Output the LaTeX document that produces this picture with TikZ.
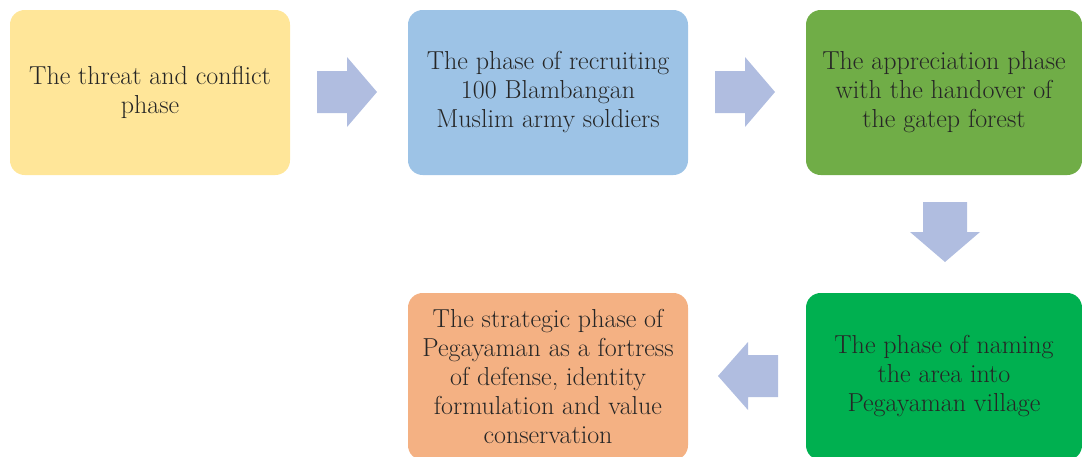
\documentclass[tikz,border=0pt]{standalone}
\definecolor{phaseYellow}{RGB}{255,230,153}
\definecolor{phaseBlue}{RGB}{157,195,230}
\definecolor{phaseGreen}{RGB}{112,173,71}
\definecolor{phaseDeepGreen}{RGB}{0,176,80}
\definecolor{phaseOrange}{RGB}{244,177,131}
\definecolor{arrowBlue}{RGB}{176,189,224}
\definecolor{phaseText}{RGB}{38,38,38}
\tikzset{
  phasebox/.style={rounded corners=11pt, minimum width=210pt, minimum height=123.75pt,
    inner sep=0pt, align=center, text=phaseText, font=\fontsize{19.5}{21.75}\selectfont},
  blockarrow/.style={fill=arrowBlue, draw=none}
}
\begin{document}
\begin{tikzpicture}[x=0.75pt,y=0.75pt,yscale=-1,xscale=1]
                \useasboundingbox (0,0) rectangle (1082,457);
                \clip (0,0) rectangle (1082,457);

                %Shape: Rounded Rectangle [id:threat]
                \node [phasebox, fill=phaseYellow] (threat) at (150,92.5) {The threat and conflict\\phase};
                %Shape: Rounded Rectangle [id:recruit]
                \node [phasebox, fill=phaseBlue] (recruit) at (548,92.5) {The phase of recruiting\\100 Blambangan\\Muslim army soldiers};
                %Shape: Rounded Rectangle [id:appreciation]
                \node [phasebox, fill=phaseGreen, minimum width=207pt] (appreciation) at (944,92.5) {The appreciation phase\\with the handover of\\the gatep forest};
                %Shape: Rounded Rectangle [id:naming]
                \node [phasebox, fill=phaseDeepGreen, minimum width=207pt, minimum height=125.25pt] (naming) at (944,376.5) {The phase of naming\\the area into\\Pegayaman village};
                %Shape: Rounded Rectangle [id:strategic]
                \node [phasebox, fill=phaseOrange, minimum height=125.25pt] (strategic) at (548,376.5) {The strategic phase of\\Pegayaman as a fortress\\of defense, identity\\formulation and value\\conservation};

                %Shape: Right Arrow [id:arrowOne]
                \fill [blockarrow] (317,71) -- (347,71) -- (347,57) -- (377,92) -- (347,127) -- (347,113) -- (317,113) -- cycle ;
                %Shape: Right Arrow [id:arrowTwo]
                \fill [blockarrow] (715,71) -- (745,71) -- (745,57) -- (775,92) -- (745,127) -- (745,113) -- (715,113) -- cycle ;
                %Shape: Down Arrow [id:arrowThree]
                \fill [blockarrow] (923,202) -- (967,202) -- (967,232) -- (980,232) -- (945,262) -- (910,232) -- (923,232) -- cycle ;
                %Shape: Left Arrow [id:arrowFour]
                \fill [blockarrow] (778,355) -- (748,355) -- (748,342) -- (718,376) -- (748,410) -- (748,397) -- (778,397) -- cycle ;
                \end{tikzpicture}
\end{document}
